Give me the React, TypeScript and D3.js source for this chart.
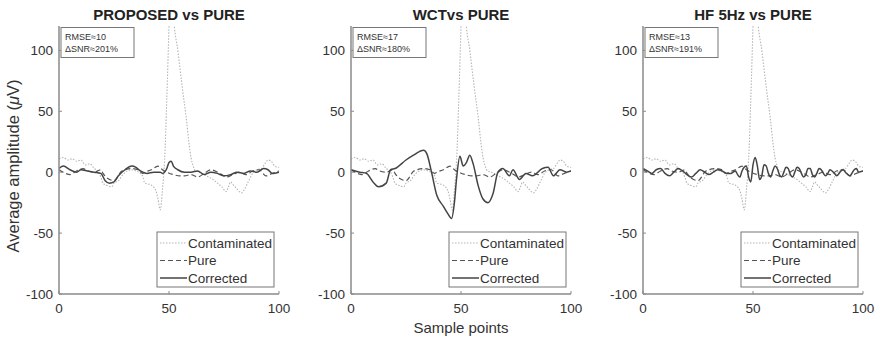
import React from "react";
import * as d3 from "d3";

// ---------- DATA ----------
const contamX = [0, 2, 4, 6, 8, 10, 12, 14, 16, 18, 19, 20, 22, 24, 25, 27, 29, 31, 33, 35, 37, 38, 39, 41, 43, 44, 45, 46, 47, 48, 49, 50, 50.5, 51.5, 52, 54, 56, 58, 59, 60, 61, 62, 64, 66, 68, 70, 72, 74, 76, 77, 78, 79, 81, 83, 84, 86, 88, 90, 92, 94, 95, 97, 98, 100];
const contamY = [11, 12, 10, 11, 9, 10, 6, 7, 3, 0, -4, -9, -11, -12, -9, -7, -2, 1, 2, 1, -1, -3, -9, -10, -12, -15, -22, -31, -15, 10, 60, 120, 150, 150, 130, 100, 70, 42, 25, 12, 5, 1, 0, -2, -4, -6, -9, -12, -16, -12, -8, -10, -14, -17, -15, -8, -1, 2, 3, 8, 10, 8, 5, 4];

const pureX = [0, 3, 5, 8, 11, 13, 16, 19, 20, 22, 23, 25, 27, 28, 30, 33, 36, 38, 39, 42, 45, 47, 49, 52, 55, 57, 60, 63, 66, 69, 72, 74, 76, 79, 82, 85, 88, 91, 94, 97, 100];
const pureY = [2, -1, -2, 1, 3, 1, 0, 2, -1, -5, -6, -7, -3, 0, 2, 3, 2, -1, 0, 2, 5, 2, 0, -2, -3, -3, -2, -4, -1, 2, 0, -2, -4, -2, 0, -2, 1, 2, -3, -1, 1];

const propX = [0, 2, 5, 8, 10, 13, 16, 19, 21, 23, 25, 27, 30, 33, 35, 37, 40, 43, 46, 47, 49, 50, 51, 52, 54, 57, 60, 63, 66, 69, 72, 75, 78, 81, 84, 87, 90, 93, 95, 97, 100];
const propY = [3, 5, 2, 0, 2, 1, 0, -1, -7, -9, -8, -3, 2, 5, 4, 1, -1, 0, 0, -1, 3, 8, 9, 5, 2, 0, 0, 1, -2, 0, -1, -3, -2, 0, -1, 1, 0, 3, 2, -1, 0];

const wctX = [0, 4, 7, 10, 12.5, 16, 18, 20, 25, 28.4, 33, 34.5, 36.6, 39, 42, 44, 45.7, 47, 48, 49.5, 51, 52.5, 54, 55.5, 57.8, 60, 62.3, 64.5, 66.8, 69, 72, 73.6, 76.6, 79.5, 82.5, 87, 89.6, 92, 95, 98, 100];
const wctY = [2, 0, -1, -8, -12, -9, 2, 3, 10, 14, 18, 15, 0, -19, -28, -34, -38, -25, -5, 13, 5, 8, 14, 7, -11, -22, -25, -18, 0, 3, -3, 2, -6, -1, -3, 3, 4, -3, 2, 0, 1];

const hfX = [0, 2, 4, 6, 8, 10, 12, 14, 16, 18, 20, 22, 24, 26, 28, 30, 32, 34, 36, 38, 40, 42, 43, 44, 45, 46, 47, 48, 49, 50, 51, 52, 53, 54, 55, 56, 57, 58, 59, 60, 61, 62, 63, 64, 65, 66, 67, 68, 69, 70, 71, 72, 73, 74, 75, 76, 77, 78, 79, 80, 81, 82, 83, 84, 85, 87, 88, 90, 91, 92, 94, 96, 97, 98, 100];
const hfY = [3, 1, -1, 2, 3, -1, -3, 0, 3, 1, -2, -4, -1, 2, 0, -2, 0, 2, 1, -1, -1, 1, -2, -4, 1, 4, 5, -4, -8, 6, 12, 5, -6, -3, 6, 5, -1, -4, 1, 5, 3, -2, -4, 0, 4, 3, -2, -4, 0, 4, 3, -1, -4, -2, 3, 3, -2, -4, -1, 3, 2, -1, -3, -1, 2, -1, -3, 1, 2, 0, -3, 2, 3, 0, 1];

const titles = ["PROPOSED vs PURE", "WCTvs PURE", "HF 5Hz vs PURE"];
const rmseLabels = ["RMSE≈10", "RMSE≈17", "RMSE≈13"];
const snrLabels = ["ΔSNR≈201%", "ΔSNR≈180%", "ΔSNR≈191%"];
const legendLabels = ["Contaminated", "Pure", "Corrected"];
const yTicks = [-100, -50, 0, 50, 100];
const xTicks = [0, 50, 100];

// ---------- LAYOUT ----------
const W = 879, H = 340;
const panelLefts = [59, 351, 643];
const axW = 220;
const axTop = 26, axBottom = 294;
const FONT = "'Liberation Sans', Arial, sans-serif";

const correctedSets = [
  { x: propX, y: propY },
  { x: wctX, y: wctY },
  { x: hfX, y: hfY },
];

function Panel({ idx }: { idx: number }) {
  const left = panelLefts[idx];
  const x = d3.scaleLinear().domain([0, 100]).range([left, left + axW]);
  const y = d3.scaleLinear().domain([-100, 120]).range([axBottom, axTop]);
  const mk = (xs: number[], ys: number[]) =>
    d3
      .line<number>()
      .x((_, i) => x(xs[i]))
      .y((d) => y(d))
      .curve(d3.curveMonotoneX)(ys) || "";
  const clipId = `clip${idx}`;
  const cor = correctedSets[idx];
  const axisColor = "#8a8a8a";
  const textColor = "#333";
  const lgX = left + 98, lgY = 232, lgW = 117, lgH = 55;
  const lgRows = [243, 260.5, 278];
  const lgStyles = [
    { stroke: "#b5b5b5", dash: "1.5,1.5", w: 1.1 },
    { stroke: "#555", dash: "5,3", w: 1.2 },
    { stroke: "#444", dash: "", w: 1.5 },
  ];
  return (
    <g>
      <defs>
        <clipPath id={clipId}>
          <rect x={left} y={axTop} width={axW} height={axBottom - axTop} />
        </clipPath>
      </defs>
      <text x={left + axW / 2} y={20} textAnchor="middle" fontFamily={FONT} fontWeight="bold" fontSize={15} fill="#222">
        {titles[idx]}
      </text>
      <g clipPath={`url(#${clipId})`}>
        <path d={mk(contamX, contamY)} fill="none" stroke="#b5b5b5" strokeWidth={1.1} strokeDasharray="1.5,1.5" />
        <path d={mk(pureX, pureY)} fill="none" stroke="#555" strokeWidth={1.2} strokeDasharray="5,3" />
        <path d={mk(cor.x, cor.y)} fill="none" stroke="#444" strokeWidth={1.5} />
      </g>
      {/* axes */}
      <line x1={left} x2={left} y1={axTop} y2={axBottom} stroke={axisColor} strokeWidth={1.5} />
      <line x1={left} x2={left + axW} y1={axBottom} y2={axBottom} stroke={axisColor} strokeWidth={1.5} />
      {yTicks.map((t) => (
        <g key={"y" + t}>
          <line x1={left} x2={left + 3} y1={y(t)} y2={y(t)} stroke={axisColor} />
          <text x={left - 6} y={y(t)} dy="0.35em" textAnchor="end" fontFamily={FONT} fontSize={13.5} fill={textColor}>
            {t}
          </text>
        </g>
      ))}
      {xTicks.map((t) => (
        <g key={"x" + t}>
          <line x1={x(t)} x2={x(t)} y1={axBottom} y2={axBottom - 3} stroke={axisColor} />
          <text x={x(t)} y={313} textAnchor="middle" fontFamily={FONT} fontSize={13.5} fill={textColor}>
            {t}
          </text>
        </g>
      ))}
      {/* RMSE box */}
      <rect x={left + 2} y={27.5} width={73} height={30} fill="white" stroke="#777" strokeWidth={1} />
      <text x={left + 6} y={40} fontFamily={FONT} fontSize={9} fill={textColor}>
        {rmseLabels[idx]}
      </text>
      <text x={left + 6} y={52} fontFamily={FONT} fontSize={9} fill={textColor}>
        {snrLabels[idx]}
      </text>
      {/* legend */}
      <rect x={lgX} y={lgY} width={lgW} height={lgH} fill="white" stroke="#777" strokeWidth={1} />
      {legendLabels.map((lab, i) => (
        <g key={lab}>
          <line x1={lgX + 3} x2={lgX + 30} y1={lgRows[i]} y2={lgRows[i]} stroke={lgStyles[i].stroke} strokeWidth={lgStyles[i].w} strokeDasharray={lgStyles[i].dash} />
          <text x={lgX + 31} y={lgRows[i]} dy="0.35em" fontFamily={FONT} fontSize={13.5} fill={textColor}>
            {lab}
          </text>
        </g>
      ))}
    </g>
  );
}

export default function App() {
  return (
    <svg width={W} height={H} style={{ position: "absolute", left: 0, top: 0, background: "white" }}>
      <rect width={W} height={H} fill="white" />
      {[0, 1, 2].map((i) => (
        <Panel key={i} idx={i} />
      ))}
      <text x={461} y={333} textAnchor="middle" fontFamily={FONT} fontSize={15} fill="#333">
        Sample points
      </text>
      <text transform="translate(19,166) rotate(-90)" textAnchor="middle" fontFamily={FONT} fontSize={16.5} fill="#333">
        Average amplitude (<tspan fontStyle="italic">μ</tspan>V)
      </text>
    </svg>
  );
}
